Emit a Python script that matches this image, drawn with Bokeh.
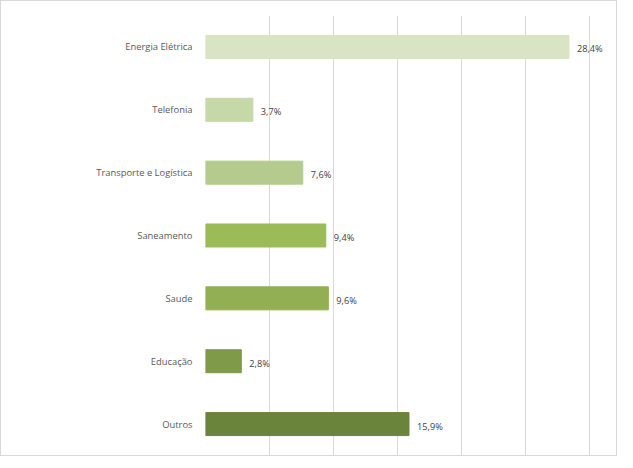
from bokeh.plotting import figure
from bokeh.models import ColumnDataSource, FactorRange, FixedTicker, Range1d
from bokeh.embed import file_html
from bokeh.resources import INLINE
from bokeh.core.properties import value

categories = ["Energia Elétrica", "Telefonia", "Transporte e Logística", "Saneamento",
              "Saude", "Educação", "Outros"]
values = [28.4, 3.7, 7.6, 9.4, 9.6, 2.8, 15.9]
colors = ["#D8E4C4", "#C6D7A8", "#B4CB8D", "#9BBB59", "#92AF53", "#7F9A48", "#6B843C"]
labels = [f"{v:.1f}".replace(".", ",") + "%" for v in values]

src = ColumnDataSource(dict(cat=categories, val=values, color=colors, label=labels))

p = figure(width=617, height=456, output_backend="svg", toolbar_location=None,
           y_range=FactorRange(*categories[::-1], range_padding=0),
           x_range=Range1d(0, 32.27))
p.min_border_left = 204
p.min_border_right = 0
p.min_border_top = 14
p.min_border_bottom = 2
p.outline_line_color = None
p.styles = {"border": "1px solid #d9d9d9"}

p.hbar(y="cat", right="val", left=0, height=0.366, color="color", source=src)
p.text(x="val", y="cat", text="label", source=src, x_offset=8, y_offset=2,
       text_font=value("Open Sans"), text_font_size="9.2px", text_color="#404040",
       text_baseline="middle", text_align="left")

p.xaxis.visible = False
p.xaxis.ticker = FixedTicker(ticks=[0, 5, 10, 15, 20, 25, 30])
p.xgrid.grid_line_color = "#d9d9d9"
p.ygrid.grid_line_color = None

ax = p.yaxis[0]
ax.axis_line_color = None
ax.major_tick_line_color = None
ax.minor_tick_line_color = None
ax.major_label_text_font = "Open Sans"
ax.major_label_text_font_size = "9.4px"
ax.major_label_text_color = "#595959"
ax.major_label_standoff = 7

open("out.html", "w").write(file_html(p, INLINE))
